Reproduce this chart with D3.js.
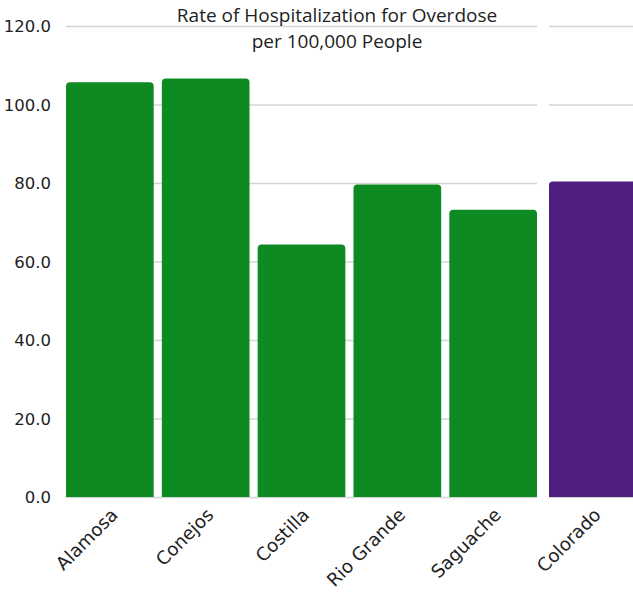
<!DOCTYPE html>
<html><head><meta charset="utf-8">
<script src="https://cdn.jsdelivr.net/npm/d3@7"></script>
<style>body{margin:0;background:#fff}svg{display:block}</style>
</head><body>
<svg id="c" width="633" height="595"></svg>
<script>
const regions = ["Alamosa","Conejos","Costilla","Rio Grande","Saguache"];
const regionValues = [105.7, 106.6, 64.3, 79.6, 73.2];
const states = ["Colorado"];
const stateValues = [80.4];
const yTicks = [0,20,40,60,80,100,120];
const titleLines = ["Rate of Hospitalization for Overdose","per 100,000 People"];

const svg = d3.select("#c");
const y = d3.scaleLinear().domain([0,120]).range([497,26]);
const x1 = d3.scaleBand().domain(regions).range([66,537]).paddingInner(0.085).paddingOuter(0);
const x2 = d3.scaleBand().domain(states).range([549,637]).paddingInner(0).paddingOuter(0);

function panel(xs, cats, vals, color, x0, x1e){
  const g = svg.append("g");
  g.selectAll("line.grid").data(yTicks).join("line")
    .attr("x1",x0).attr("x2",x1e)
    .attr("y1",d=>y(d)+0.5).attr("y2",d=>y(d)+0.5)
    .attr("stroke","#d4d4d4").attr("stroke-width",1.3);
  const r = 4;
  g.selectAll("path.bar").data(cats).join("path")
    .attr("fill",color)
    .attr("d",(d,i)=>{
      const bx = xs(d), bw = xs.bandwidth(), top = y(vals[i]), bot = y(0);
      return `M${bx},${bot}V${top+r}Q${bx},${top} ${bx+r},${top}H${bx+bw-r}Q${bx+bw},${top} ${bx+bw},${top+r}V${bot}Z`;
    });
  g.selectAll("text.xl").data(cats).join("text")
    .attr("transform",d=>`translate(${xs(d)+xs.bandwidth()/2+9},${516}) rotate(-45)`)
    .attr("text-anchor","end")
    .attr("font-family","DejaVu Sans")
    .attr("font-size",18.2)
    .attr("fill","#222")
    .text(d=>d);
}
panel(x1, regions, regionValues, "#0e8a22", 66, 537);
panel(x2, states, stateValues, "#4f1f80", 549, 637);

svg.append("g").selectAll("text").data(yTicks).join("text")
  .attr("x",51).attr("y",d=>y(d)+6)
  .attr("text-anchor","end")
  .attr("font-family","DejaVu Sans")
  .attr("font-size",16.5)
  .attr("fill","#222")
  .text(d=>d3.format(".1f")(d));

svg.append("g").selectAll("text").data(titleLines).join("text")
  .attr("x",337).attr("y",(d,i)=>21.5+i*26)
  .attr("text-anchor","middle")
  .attr("font-family","Open Sans")
  .attr("font-size",19)
  .attr("fill","#222")
  .text(d=>d);
</script>
</body></html>
